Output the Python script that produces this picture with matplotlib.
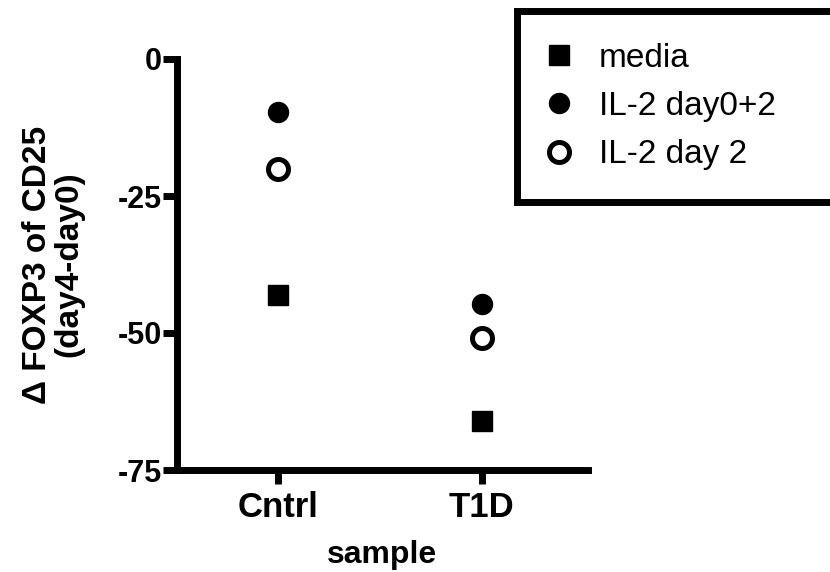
import numpy as np
import matplotlib
matplotlib.use("Agg")
import matplotlib.pyplot as plt

plt.rcParams["font.family"] = ["Liberation Sans", "DejaVu Sans"]
plt.rcParams["axes.unicode_minus"] = False

# data
samples = ["Cntrl", "T1D"]
media = [-43, -66]
il2_day0_2 = [-9.6, -44.7]
il2_day2 = [-20, -51]

x = np.arange(len(samples))

fig = plt.figure(figsize=(8.3, 5.72), dpi=100)
ax = fig.add_axes([177 / 830, 1 - 470 / 572, (588 - 177) / 830, (470 - 59) / 572])

ms = 14.4
ax.plot(x, media, linestyle="none", marker="s", ms=ms, color="black",
        label="media", clip_on=False)
ax.plot(x, il2_day0_2, linestyle="none", marker="o", ms=ms, color="black",
        label="IL-2 day0+2", clip_on=False)
ax.plot(x, il2_day2, linestyle="none", marker="o", ms=ms, mfc="white",
        mec="black", mew=3.6, label="IL-2 day 2", clip_on=False)

ax.set_ylim(-75, 0)
ax.set_xlim(-0.495, 1.52)
ax.set_yticks([0, -25, -50, -75])
ax.set_xticks(x)
ax.set_xticklabels(samples, fontsize=25, fontweight="bold")
for lab in ax.get_yticklabels():
    lab.set_fontsize(22)
    lab.set_fontweight("bold")

for side in ["top", "right"]:
    ax.spines[side].set_visible(False)
for side in ["left", "bottom"]:
    ax.spines[side].set_linewidth(5)
    ax.spines[side].set_capstyle("projecting")
ax.tick_params(axis="both", width=5, length=10, direction="out")
ax.tick_params(axis="y", pad=1)
ax.tick_params(axis="x", pad=5)

ax.set_xlabel("sample", fontsize=23, fontweight="bold", labelpad=12)
ax.set_ylabel("Δ FOXP3 of CD25\n(day4-day0)", fontsize=24, fontweight="bold",
              labelpad=24, linespacing=1.0)

top = 1 - 11 / 572
leg = fig.legend(loc="upper left", bbox_to_anchor=(517 / 830, top - 0.3, 0.5, 0.3),
                 mode="expand", fontsize=24, frameon=True, fancybox=False,
                 framealpha=1, borderpad=0.95, labelspacing=0.52, handlelength=0.6,
                 handletextpad=0.9, borderaxespad=0, edgecolor="black")
leg.get_frame().set_linewidth(5)

fig.savefig("out.png", dpi=100)
